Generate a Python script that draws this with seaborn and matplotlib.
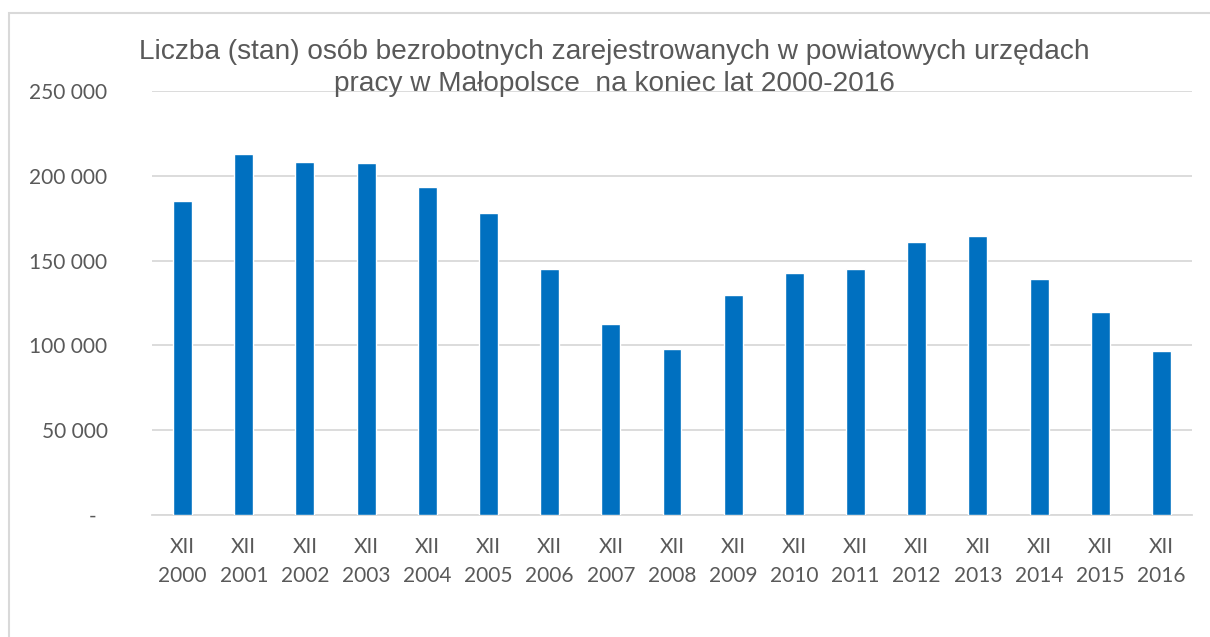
import matplotlib
matplotlib.use("Agg")
import matplotlib.pyplot as plt
import seaborn as sns
import pandas as pd
from matplotlib.patches import Rectangle
from matplotlib.ticker import FuncFormatter

years = ["2000", "2001", "2002", "2003", "2004", "2005", "2006", "2007", "2008",
         "2009", "2010", "2011", "2012", "2013", "2014", "2015", "2016"]
categories = ["XII\n" + y for y in years]
values = [185100, 212900, 208000, 207800, 193300, 178000, 145100, 112700, 98000,
          129800, 142400, 145100, 161200, 164500, 139000, 119600, 96500]
title_text = ("Liczba (stan) osób bezrobotnych zarejestrowanych w powiatowych urzędach\n"
              "pracy w Małopolsce  na koniec lat 2000-2016")
yticks = [0, 50000, 100000, 150000, 200000, 250000]

df = pd.DataFrame({"kategoria": categories, "liczba": values})

sns.set_theme(style="white")
plt.rcParams["font.family"] = ["Lato", "DejaVu Sans"]

W, H = 1210, 637
fig = plt.figure(figsize=(W / 100, H / 100), dpi=100)
ax = fig.add_axes([152 / W, 1 - 515 / H, (1192 - 152) / W, (515 - 91) / H])

sns.barplot(data=df, x="kategoria", y="liczba", color="#0070C0", width=0.31,
            saturation=1, ax=ax, zorder=3)

ax.set_ylim(0, 250000)
ax.set_xlim(-0.5, len(categories) - 0.5)
ax.set_yticks(yticks)

def fmt(v, pos):
    if v == 0:
        return "-  "
    return f"{int(v):,}".replace(",", " ")

ax.yaxis.set_major_formatter(FuncFormatter(fmt))
ax.grid(axis="y", color="#D9D9D9", linewidth=1.3, zorder=0)
ax.grid(axis="x", visible=False)
for s in ["top", "right", "left"]:
    ax.spines[s].set_visible(False)
ax.spines["bottom"].set_color("#D9D9D9")
ax.spines["bottom"].set_linewidth(1.3)
ax.set_xlabel("")
ax.set_ylabel("")
ax.tick_params(axis="y", length=0, pad=32, labelsize=15, labelcolor="#595959")
ax.tick_params(axis="x", length=0, pad=16, labelsize=15, labelcolor="#595959")
for lbl in ax.get_xticklabels():
    lbl.set_linespacing(1.55)

fig.text(614 / W, 1 - 39 / H, title_text, ha="center", va="top", fontsize=20.2,
         color="#595959", family=["Liberation Sans", "DejaVu Sans"], linespacing=1.32,
         zorder=5)

fig.patches.append(Rectangle((8.5 / W, -0.05), (1250 - 8.5) / W, 1.05 - 13 / H,
                             transform=fig.transFigure, fill=False,
                             edgecolor="#D9D9D9", linewidth=1.5))

fig.savefig("out.png", dpi=100)
